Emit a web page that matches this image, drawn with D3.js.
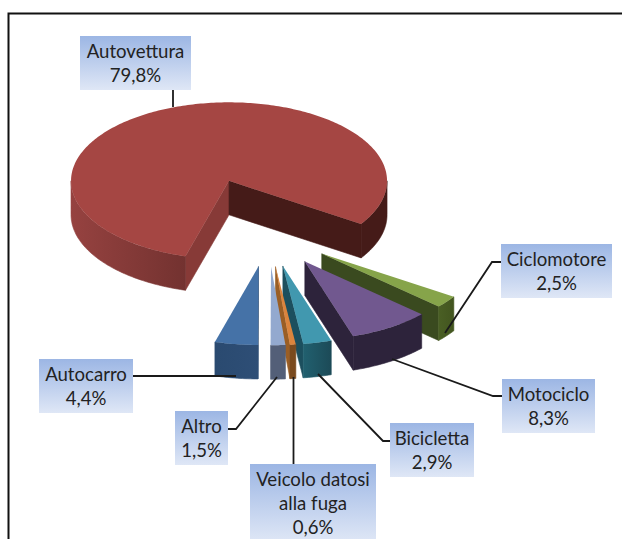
<!DOCTYPE html>
<html>
<head>
<meta charset="utf-8">
<script src="https://cdnjs.cloudflare.com/ajax/libs/d3/7.8.5/d3.min.js"></script>
<style>
  html, body { margin: 0; padding: 0; background: #fff; overflow: hidden; }
  svg { display: block; }
  text { font-family: Lato, sans-serif; font-size: 18.6px; fill: #222; text-anchor: middle; }
</style>
</head>
<body>
<svg id="chart" width="622" height="539"></svg>
<script>
// values, clockwise
var categories = ["Autovettura", "Ciclomotore", "Motociclo", "Bicicletta", "Veicolo datosi alla fuga", "Altro", "Autocarro"]
var shares = [79.8, 2.5, 8.3, 2.9, 0.6, 1.5, 4.4]
var shareLabels = ["79,8%", "2,5%", "8,3%", "2,9%", "0,6%", "1,5%", "4,4%"]

// styling per slice
var topColors = ["#A54643", "#86A44A", "#71588F", "#4198AF", "#DB843D", "#93A9CF", "#4572A7"]
var outerLeft = ["#964240", "#4A5F24", "#2D233B", "#21606F", "#7A4A1E", "#535F78", "#2A4A70"]
var outerRight = ["#733230", "#42551F", "#2D233B", "#1C4A57", "#7A4A1E", "#535F78", "#2E4E76"]
var edgeColors = ["#451B18", "#3A4A1F", "#2D233B", "#1C4F5E", "#9A5E25", "#535F78", "#2A4A70"]
var explode = [112, 68, 68, 68, 68, 68, 68]

// label box, leader line
var labelLines = [["Autovettura"], ["Ciclomotore"], ["Motociclo"], ["Bicicletta"], ["Veicolo datosi", "alla fuga"], ["Altro"], ["Autocarro"]]
var labelBoxes = [
  [80, 36, 111], [501, 244, 111], [502, 379, 93], [390, 423, 84],
  [250, 464, 126], [175, 411, 53], [39, 359, 94]
]
var leaders = [
  [[173, 90], [173, 107]],
  [[501, 262], [492, 262], [445, 333]],
  [[502, 396], [493, 396], [392, 359]],
  [[390, 441], [383, 441], [318, 374]],
  [[293.5, 464], [293.5, 377]],
  [[228, 429], [236, 429], [277, 377]],
  [[133, 376], [236, 376]]
]

var width = 622, height = 539
var cx = 268, cy = 233, depth = 34
var tau = 2 * Math.PI

var svg = d3.select("#chart")
var defs = svg.append("defs")

var boxGrad = defs.append("linearGradient").attr("id", "boxGrad")
  .attr("x1", 0).attr("y1", 0).attr("x2", 0).attr("y2", 1)
boxGrad.append("stop").attr("offset", 0).attr("stop-color", "#9CB6E4")
boxGrad.append("stop").attr("offset", 1).attr("stop-color", "#DFE7F6")

// frame, runs off the right and bottom of the picture
svg.append("path")
  .attr("d", "M8.5," + (height + 5) + "V13.5H" + (width + 5))
  .attr("fill", "none").attr("stroke", "#111").attr("stroke-width", 2)

var px = d3.scaleLinear().domain([-1, 1]).range([-158, 158])
var py = d3.scaleLinear().domain([-1, 1]).range([-78.5, 78.5])

var pie = d3.pie().sort(null)
  .startAngle(196 * Math.PI / 180)
  .endAngle(196 * Math.PI / 180 + tau)

var slices = pie(shares).map(function (d, i) {
  var mid = (d.startAngle + d.endAngle) / 2
  return {
    i: i, a0: d.startAngle, a1: d.endAngle, mid: mid,
    ox: cx + px(Math.sin(mid) * explode[i] / 158),
    oy: cy + py(-Math.cos(mid) * explode[i] / 158)
  }
})

var pt = function (s, a, dz) {
  return [s.ox + px(Math.sin(a)), s.oy + py(-Math.cos(a)) + (dz || 0)]
}

var arcPoints = function (s, a0, a1, dz) {
  var n = Math.max(2, Math.ceil((a1 - a0) * 60))
  return d3.range(n + 1).map(function (k) {
    return pt(s, a0 + (a1 - a0) * k / n, dz)
  })
}

var line = d3.line()

// parts of [a0, a1] which face the viewer (lower half of the ellipse)
var frontParts = function (a0, a1) {
  var out = []
  for (var k = -1; k < 3; k++) {
    var lo = Math.max(a0, tau / 4 + k * tau)
    var hi = Math.min(a1, 3 * tau / 4 + k * tau)
    if (hi > lo) out.push([lo, hi])
  }
  return out
}

var chart = svg.append("g")

// solid faces, stroked in their own colour so no seam shows between them
var face = function (g, points, fill) {
  g.append("path")
    .attr("d", line(points) + "Z")
    .attr("fill", fill)
    .attr("stroke", fill)
    .attr("stroke-width", 0.6)
    .attr("stroke-linejoin", "round")
}

slices.slice().sort(function (a, b) {
  return Math.cos(b.mid) - Math.cos(a.mid)
}).forEach(function (s) {
  var g = chart.append("g").attr("class", "slice")
  var apex = [s.ox, s.oy]
  var apexLow = [s.ox, s.oy + depth]

  // cut faces
  if (Math.sin(s.a0) < -1e-6) {
    face(g, [apex, pt(s, s.a0), pt(s, s.a0, depth), apexLow], s.i === 0 ? "#873A37" : edgeColors[s.i])
  }
  if (Math.sin(s.a1) > 1e-6) {
    face(g, [apex, pt(s, s.a1), pt(s, s.a1, depth), apexLow], edgeColors[s.i])
  }

  // outer wall
  frontParts(s.a0, s.a1).forEach(function (p, k) {
    var upper = arcPoints(s, p[0], p[1], 0)
    var lower = arcPoints(s, p[0], p[1], depth).reverse()
    var xs = d3.extent(upper, function (q) { return q[0] })
    var fill
    if (s.i === 0 && xs[0] > s.ox) {
      fill = edgeColors[0]
    } else {
      var id = "wall" + s.i + "_" + k
      var grad = defs.append("linearGradient").attr("id", id)
        .attr("gradientUnits", "userSpaceOnUse")
        .attr("x1", xs[0]).attr("x2", xs[1]).attr("y1", 0).attr("y2", 0)
      grad.append("stop").attr("offset", 0).attr("stop-color", outerLeft[s.i])
      grad.append("stop").attr("offset", 1).attr("stop-color", outerRight[s.i])
      fill = "url(#" + id + ")"
    }
    face(g, upper.concat(lower), fill)
  })

  // top face
  g.append("path")
    .attr("d", line([apex].concat(arcPoints(s, s.a0, s.a1, 0))) + "Z")
    .attr("fill", topColors[s.i])
})

// leader lines
svg.append("g").selectAll("path")
  .data(leaders)
  .join("path")
  .attr("d", function (d) { return line(d) })
  .attr("fill", "none")
  .attr("stroke", "#1a1a1a")
  .attr("stroke-width", 1.8)

// labels
var lineHeight = 24
var label = svg.append("g").selectAll("g")
  .data(categories)
  .join("g")
  .attr("transform", function (d, i) {
    return "translate(" + labelBoxes[i][0] + "," + labelBoxes[i][1] + ")"
  })

label.append("rect")
  .attr("width", function (d, i) { return labelBoxes[i][2] })
  .attr("height", function (d, i) { return (labelLines[i].length + 1) * lineHeight + 6 })
  .attr("fill", "url(#boxGrad)")

label.each(function (d, i) {
  var rows = labelLines[i].concat([shareLabels[i]])
  d3.select(this).selectAll("text")
    .data(rows)
    .join("text")
    .attr("x", labelBoxes[i][2] / 2)
    .attr("y", function (r, k) { return 22 + k * lineHeight })
    .text(function (r) { return r })
})
</script>
</body>
</html>
